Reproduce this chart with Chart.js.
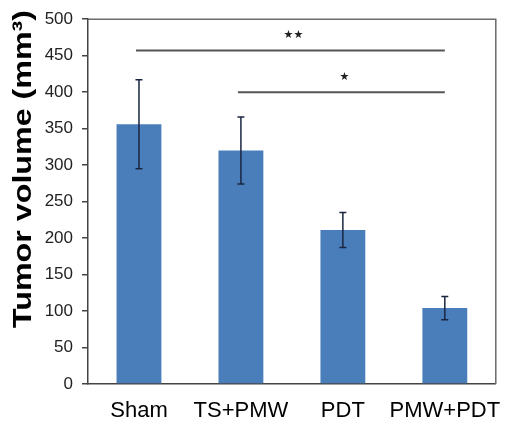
<!DOCTYPE html>
<html><head><meta charset="utf-8">
<script src="https://cdn.jsdelivr.net/npm/chart.js@4"></script>
<style>html,body{margin:0;padding:0;background:#fff}#wrap{width:507px;height:421px;position:relative}</style>
</head><body><div id="wrap"><canvas id="c"></canvas></div>
<script>
// ---- data ----
const categories = ['Sham', 'TS+PMW', 'PDT', 'PMW+PDT'];
const tumorVolume = [356, 320, 211, 104];
const errorSD = [61, 46, 24, 16];
const yTickValues = [0, 50, 100, 150, 200, 250, 300, 350, 400, 450, 500];
const sigFrom = [0, 1];
const sigTo = [3, 3];
const sigLevel = [457, 400];
const sigLabel = ['★★', '★'];
const yTitle = 'Tumor volume (mm³)';

const FONT = "'Liberation Sans', Arial, sans-serif";

const errorBars = {
  id: 'errorBars',
  afterDatasetsDraw(chart) {
    const {ctx, scales: {x, y}} = chart;
    ctx.save();
    ctx.strokeStyle = '#1a2640';
    ctx.lineWidth = 1.5;
    tumorVolume.forEach((v, i) => {
      const px = x.getPixelForValue(i);
      const top = y.getPixelForValue(v + errorSD[i]);
      const bot = y.getPixelForValue(v - errorSD[i]);
      ctx.beginPath();
      ctx.moveTo(px, top); ctx.lineTo(px, bot);
      ctx.moveTo(px - 3.5, top); ctx.lineTo(px + 3.5, top);
      ctx.moveTo(px - 3.5, bot); ctx.lineTo(px + 3.5, bot);
      ctx.stroke();
    });
    ctx.restore();
  }
};

const annotations = {
  id: 'annotations',
  afterDraw(chart) {
    const {ctx, chartArea: a, scales: {x, y}} = chart;
    ctx.save();
    // frame top/right
    ctx.strokeStyle = '#6b6b6b';
    ctx.lineWidth = 1.5;
    ctx.beginPath();
    ctx.moveTo(a.left, a.top); ctx.lineTo(a.right, a.top); ctx.lineTo(a.right, a.bottom);
    ctx.stroke();
    // significance lines
    ctx.strokeStyle = '#555';
    ctx.lineWidth = 2;
    ctx.fillStyle = '#222';
    ctx.font = "11px 'DejaVu Sans'";
    ctx.textAlign = 'center';
    ctx.textBaseline = 'middle';
    sigLevel.forEach((lv, i) => {
      const x1 = x.getPixelForValue(sigFrom[i]) - 3;
      const x2 = x.getPixelForValue(sigTo[i]);
      const py = y.getPixelForValue(lv);
      ctx.beginPath(); ctx.moveTo(x1, py); ctx.lineTo(x2, py); ctx.stroke();
      ctx.fillText(sigLabel[i], (x1 + x2) / 2 + 3, py - 15);
    });
    // y title
    ctx.fillStyle = '#000';
    ctx.font = "bold 26px " + FONT;
    const w = ctx.measureText(yTitle).width;
    const s = 318 / w;
    ctx.translate(24, 169);
    ctx.rotate(-Math.PI / 2);
    ctx.scale(s, 1);
    ctx.textAlign = 'center';
    ctx.textBaseline = 'middle';
    ctx.fillText(yTitle, 0, 0);
    ctx.restore();
  }
};

new Chart(document.getElementById('c'), {
  type: 'bar',
  data: {
    labels: categories,
    datasets: [{
      data: tumorVolume,
      backgroundColor: '#4a7ebb',
      barPercentage: 0.44,
      categoryPercentage: 1
    }]
  },
  options: {
    responsive: true,
    maintainAspectRatio: false,
    animation: false,
    devicePixelRatio: 1,
    layout: {padding: {top: 17, right: 7, left: 0, bottom: 0}},
    plugins: {legend: {display: false}, tooltip: {enabled: false}},
    scales: {
      x: {
        grid: {display: false},
        border: {display: true, color: '#444', width: 1.5},
        ticks: {color: '#000', font: {size: 22, family: FONT}, padding: 6, maxRotation: 0, autoSkip: false},
        afterFit(s) { s.height = 37; }
      },
      y: {
        min: 0, max: 500,
        afterBuildTicks(s) { s.ticks = yTickValues.map(v => ({value: v})); },
        grid: {drawOnChartArea: false, tickLength: 6, color: '#444', lineWidth: 1.5},
        border: {display: true, color: '#444', width: 1.5},
        ticks: {color: '#222', font: {size: 17, family: FONT}, padding: 9},
        afterFit(s) { s.width = 88; }
      }
    }
  },
  plugins: [errorBars, annotations]
});
</script></body></html>
